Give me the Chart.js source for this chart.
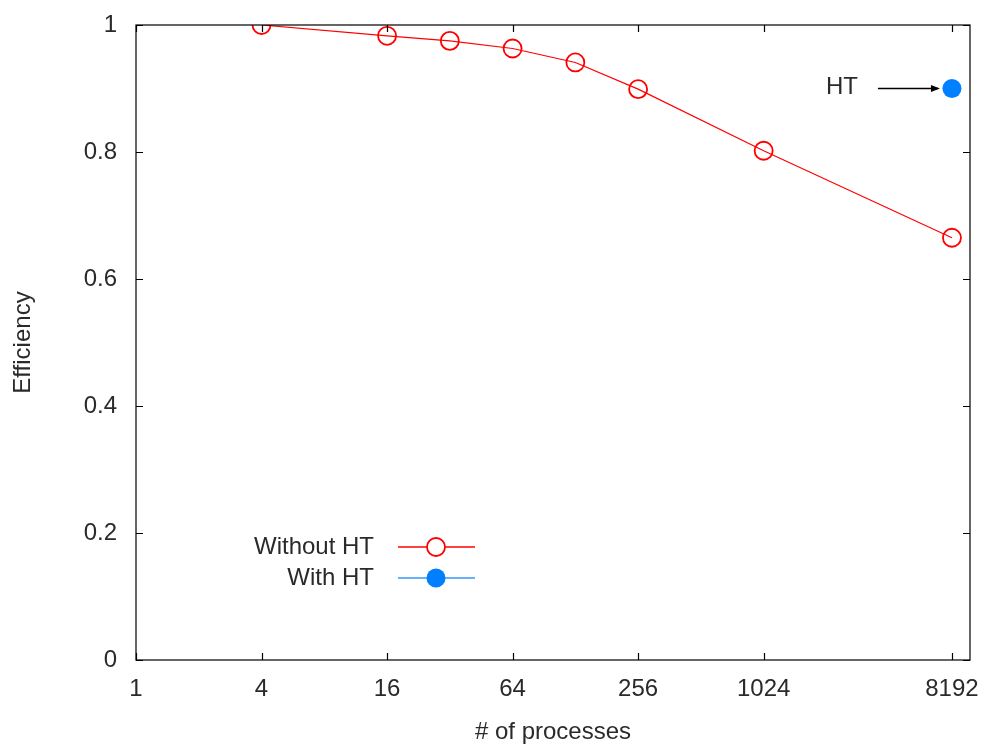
<!DOCTYPE html>
<html>
<head>
<meta charset="utf-8">
<script src="https://cdn.jsdelivr.net/npm/chart.js@4/dist/chart.umd.min.js"></script>
<style>
    html, body { margin: 0; padding: 0; background: #fff; }
    #wrap { width: 983px; height: 747px; }
</style>
</head>
<body>
<div id="wrap"><canvas id="chart"></canvas></div>
<script>
// process counts and measured parallel efficiency
const procs = [4, 16, 32, 64, 128, 256, 1024, 8192];
const withoutHT = [1.0, 0.983, 0.975, 0.963, 0.941, 0.899, 0.802, 0.665];
const htProcs = [8192];
const withHT = [0.9];
const xTicks = [1, 4, 16, 64, 256, 1024, 8192];
const yTicks = [0, 0.2, 0.4, 0.6, 0.8, 1];

const FONT = "'Liberation Sans', Arial, sans-serif";
const FSIZE = 24;
const TEXT = "#2a2a2a";

// gnuplot-ish frame: full box, inward ticks on all sides, legend, HT label
const frame = {
    id: "frame",
    afterDraw(chart) {
        const ctx = chart.ctx;
        const a = chart.chartArea;
        const xs = chart.scales.x, ys = chart.scales.y;
        ctx.save();
        ctx.strokeStyle = "#000";
        ctx.lineWidth = 1.2;
        ctx.strokeRect(a.left, a.top, a.right - a.left, a.bottom - a.top);

        ctx.beginPath();
        xTicks.forEach(function (v) {
            const px = Math.round(xs.getPixelForValue(v)) + 0.5;
            ctx.moveTo(px, a.bottom); ctx.lineTo(px, a.bottom - 7);
            ctx.moveTo(px, a.top); ctx.lineTo(px, a.top + 7);
        });
        yTicks.forEach(function (v) {
            const py = Math.round(ys.getPixelForValue(v)) + 0.5;
            ctx.moveTo(a.left, py); ctx.lineTo(a.left + 7, py);
            ctx.moveTo(a.right, py); ctx.lineTo(a.right - 7, py);
        });
        ctx.stroke();

        // legend
        ctx.font = FSIZE + "px " + FONT;
        ctx.textAlign = "right";
        ctx.textBaseline = "middle";
        chart.data.datasets.forEach(function (ds, i) {
            const y = 547 + i * 31;
            ctx.fillStyle = TEXT;
            ctx.fillText(ds.label, 374, y);
            ctx.strokeStyle = ds.borderColor;
            ctx.lineWidth = 1.3;
            ctx.beginPath();
            ctx.moveTo(398, y); ctx.lineTo(475, y);
            ctx.stroke();
            ctx.beginPath();
            ctx.arc(436, y, ds.pointRadius, 0, Math.PI * 2);
            if (ds.pointBackgroundColor !== "transparent") {
                ctx.fillStyle = ds.pointBackgroundColor;
                ctx.fill();
            } else {
                ctx.fillStyle = "#fff";
                ctx.fill();
                ctx.strokeStyle = ds.pointBorderColor;
                ctx.lineWidth = ds.pointBorderWidth;
                ctx.stroke();
            }
        });

        // HT annotation with arrow
        const tx = xs.getPixelForValue(htProcs[0]);
        const ty = ys.getPixelForValue(withHT[0]);
        ctx.fillStyle = TEXT;
        ctx.textAlign = "center";
        ctx.fillText("HT", tx - 110, ty - 1);
        ctx.strokeStyle = "#000";
        ctx.lineWidth = 1.3;
        ctx.beginPath();
        ctx.moveTo(tx - 74, ty); ctx.lineTo(tx - 14, ty);
        ctx.stroke();
        ctx.fillStyle = "#000";
        ctx.beginPath();
        ctx.moveTo(tx - 12, ty);
        ctx.lineTo(tx - 21, ty - 3.5);
        ctx.lineTo(tx - 21, ty + 3.5);
        ctx.closePath();
        ctx.fill();
        ctx.restore();
    }
};

new Chart(document.getElementById("chart"), {
    type: "line",
    data: {
        datasets: [
            {
                label: "Without HT",
                data: procs.map((p, i) => ({ x: p, y: withoutHT[i] })),
                borderColor: "#ff0000",
                borderWidth: 1.2,
                pointRadius: 9,
                pointBorderWidth: 1.8,
                pointBorderColor: "#ff0000",
                pointBackgroundColor: "transparent",
                tension: 0,
            },
            {
                label: "With HT",
                data: htProcs.map((p, i) => ({ x: p, y: withHT[i] })),
                borderColor: "#3399ff",
                borderWidth: 1.2,
                pointRadius: 9.5,
                pointBorderWidth: 0,
                pointBorderColor: "#0080ff",
                pointBackgroundColor: "#0080ff",
            },
        ],
    },
    options: {
        responsive: true,
        maintainAspectRatio: false,
        animation: false,
        layout: { padding: { top: 25, right: 13, left: 0, bottom: 0 } },
        plugins: { legend: { display: false }, tooltip: { enabled: false } },
        scales: {
            x: {
                type: "logarithmic",
                min: 1,
                max: 10000,
                afterBuildTicks: function (scale) {
                    scale.ticks = xTicks.map((v) => ({ value: v }));
                },
                afterFit: function (scale) {
                    scale.height = 87;
                    scale.paddingLeft = 0;
                    scale.paddingRight = 0;
                },
                grid: { display: false, drawTicks: false },
                border: { display: false },
                ticks: {
                    autoSkip: false,
                    maxRotation: 0,
                    padding: 15,
                    color: TEXT,
                    font: { family: FONT, size: FSIZE },
                    callback: (v) => String(v),
                },
                title: {
                    display: true,
                    text: "# of processes",
                    color: TEXT,
                    font: { family: FONT, size: FSIZE },
                    padding: { top: 0, bottom: 0 },
                },
            },
            y: {
                min: 0,
                max: 1,
                afterBuildTicks: function (scale) {
                    scale.ticks = yTicks.map((v) => ({ value: v }));
                },
                afterFit: function (scale) {
                    scale.width = 136;
                    scale.paddingTop = 0;
                    scale.paddingBottom = 0;
                },
                grid: { display: false, drawTicks: false },
                border: { display: false },
                ticks: {
                    padding: 19,
                    color: TEXT,
                    font: { family: FONT, size: FSIZE },
                    callback: (v) => String(v),
                },
                title: {
                    display: true,
                    text: "Efficiency",
                    color: TEXT,
                    font: { family: FONT, size: FSIZE },
                    padding: { top: 9, bottom: 0 },
                },
            },
        },
    },
    plugins: [frame],
});
</script>
</body>
</html>
